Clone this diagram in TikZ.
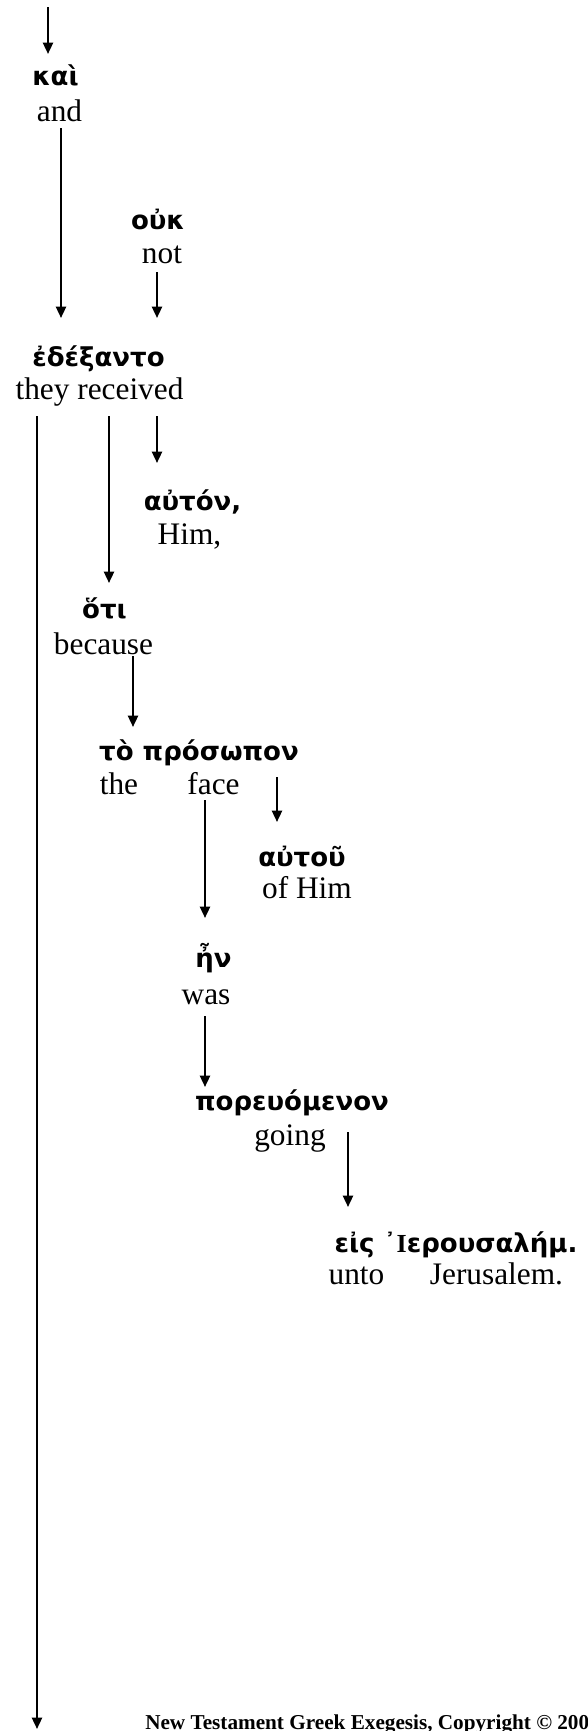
\documentclass[tikz,border=0pt]{standalone}
\usepackage{fontspec}
\setmainfont{Liberation Serif}
\newfontfamily\grk{DejaVu Sans}
\usetikzlibrary{arrows.meta}
\begin{document}
\begin{tikzpicture}[x=0.75pt,y=-0.75pt,
  gk/.style={anchor=base, inner sep=0pt, font=\grk\bfseries\fontsize{19.5}{22}\selectfont},
  en/.style={anchor=base, inner sep=0pt, font=\fontsize{23.5}{26}\selectfont},
  arr/.style={line width=1.7pt, -{Triangle[length=8.5pt,width=7.5pt]}},
  note/.style={anchor=base west, inner sep=0pt, font=\bfseries\fontsize{15.9}{18}\selectfont}]
\useasboundingbox (0,0) rectangle (587,1731);
\clip (0,0) rectangle (587,1731);

% Greek words and glosses
\node[gk] (kai) at (55.5,85) {καὶ};
\node[en] (and) at (59.5,121) {and};
\node[gk] (ouk) at (158,229) {οὐκ};
\node[en] (not) at (162,263) {not};
\node[gk] (edex) at (98.5,366) {ἐδέξαντο};
\node[en] (received) at (99.5,399) {they received};
\node[gk] (auton) at (192.5,510) {αὐτόν,};
\node[en] (him) at (189.5,544) {Him,};
\node[gk] (hoti) at (104.5,618) {ὅτι};
\node[en] (because) at (103.5,654) {because};
\node[gk] (prosopon) at (199,760) {τὸ πρόσωπον};
\node[en] (the) at (119,794) {the};
\node[en] (face) at (213.5,794) {face};
\node[gk] (autou) at (302,866) {αὐτοῦ};
\node[en] (ofhim) at (307,898) {of Him};
\node[gk] (en) at (213.5,967) {ἦν};
\node[en] (was) at (206,1004) {was};
\node[gk] (poreu) at (292,1110) {πορευόμενον};
\node[en] (going) at (290,1145) {going};
\node[gk] (eis) at (456,1252) {εἰς ᾿{\rmfamily Ι}ερουσαλήμ.};
\node[en] (unto) at (356.5,1284) {unto};
\node[en] (jer) at (496.5,1284) {Jerusalem.};

\node[note] (copy) at (145,1729) {New Testament Greek Exegesis, Copyright © 200};

% connector end points
\coordinate (t0) at (48,7);
\coordinate (t1) at (48,54);
\coordinate (a0) at (61,128);
\coordinate (a1) at (61,318);
\coordinate (n0) at (157,272);
\coordinate (n1) at (157,318);
\coordinate (r0) at (37,416);
\coordinate (r1) at (37,1729);
\coordinate (h0) at (109,416);
\coordinate (h1) at (109,583);
\coordinate (u0) at (157,416);
\coordinate (u1) at (157,463);
\coordinate (b0) at (133,656);
\coordinate (b1) at (133,727);
\coordinate (f0) at (205,800);
\coordinate (f1) at (205,918);
\coordinate (p0) at (277,777);
\coordinate (p1) at (277,822);
\coordinate (w0) at (205,1016);
\coordinate (w1) at (205,1087);
\coordinate (g0) at (348,1132);
\coordinate (g1) at (348,1207);

\draw[arr] (t0) -- (t1);
\draw[arr] (a0) -- (a1);
\draw[arr] (n0) -- (n1);
\draw[arr] (r0) -- (r1);
\draw[arr] (h0) -- (h1);
\draw[arr] (u0) -- (u1);
\draw[arr] (b0) -- (b1);
\draw[arr] (f0) -- (f1);
\draw[arr] (p0) -- (p1);
\draw[arr] (w0) -- (w1);
\draw[arr] (g0) -- (g1);
\end{tikzpicture}
\end{document}
